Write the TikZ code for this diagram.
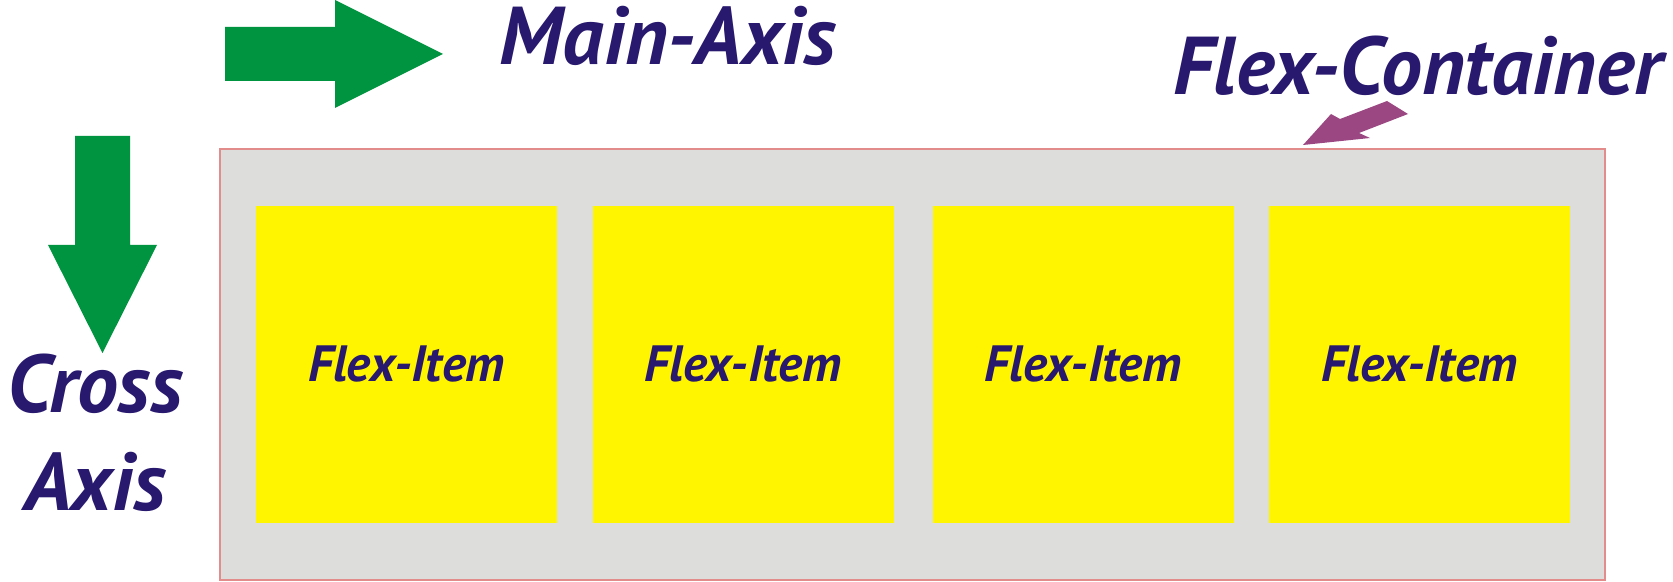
\documentclass[tikz,border=0pt]{standalone}
\usepackage{fontspec}
\setmainfont{PT Sans}
\definecolor{arrowgreen}{RGB}{0,147,64}
\definecolor{inktext}{RGB}{40,24,110}
\definecolor{pointer}{RGB}{155,72,130}
\definecolor{boxgray}{RGB}{221,221,219}
\definecolor{boxedge}{RGB}{226,140,140}
\definecolor{itemyellow}{RGB}{255,245,0}
\tikzset{
  bigtext/.style={text=inktext, font=\fontsize{41}{46}\selectfont\bfseries\itshape, inner sep=0pt, anchor=base},
  itemtext/.style={text=inktext, font=\fontsize{25.5}{30}\selectfont\bfseries\itshape},
  container/.style={draw=boxedge, fill=boxgray, line width=0.75pt, inner sep=0pt, outer sep=0pt,
    minimum width=692.5pt, minimum height=215.5pt},
  flexitem/.style={fill=itemyellow, inner sep=0pt, outer sep=0pt, itemtext,
    minimum width=150.5pt, minimum height=158.5pt},
  greenarrow/.style={fill=arrowgreen, draw=none},
  pointerarrow/.style={fill=pointer, draw=none}
}
\begin{document}
\begin{tikzpicture}[x=0.5pt, y=-0.5pt]
\useasboundingbox (0,0) rectangle (1673,582);
% main axis arrow
\fill[greenarrow] (225,27) -- (335,27) -- (335,0) -- (443,54) -- (335,108) -- (335,81) -- (225,81) -- cycle;
% cross axis arrow
\fill[greenarrow] (75,136) -- (130,136) -- (130,245) -- (157,245) -- (102.5,353) -- (48,245) -- (75,245) -- cycle;
% labels
\node[bigtext] (mainlabel) at (668,65) {Main-Axis};
\node[bigtext] (containerlabel) at (1418,95) {Flex-Container};
\node[bigtext] (crosslabel) at (95,412) {Cross};
\node[bigtext] (axislabel) at (95,510) {Axis};
% container
\node[container] (box) at (912.5,364.5) {};
\node[flexitem] (item1) at (406.5,364.5) {Flex-Item};
\node[flexitem] (item2) at (743,364.5) {Flex-Item};
\node[flexitem] (item3) at (1083,364.5) {Flex-Item};
\node[flexitem] (item4) at (1419.5,364.5) {Flex-Item};
% pointer arrow
\coordinate (tip) at (1303,145);
\fill[pointerarrow] (tip) -- (1331,114) -- (1340,119) -- (1387,101) -- (1408,114) -- (1359,133) -- (1370,138) -- cycle;
\end{tikzpicture}
\end{document}
